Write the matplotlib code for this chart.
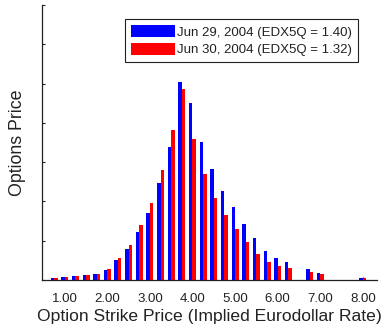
import matplotlib
matplotlib.use("Agg")
import matplotlib.pyplot as plt
import numpy as np

plt.rcParams['font.family'] = ['Liberation Sans', 'DejaVu Sans']

strikes = [0.75, 1.00, 1.25, 1.50, 1.75, 2.00, 2.25, 2.50, 2.75, 3.00, 3.25, 3.50,
           3.75, 4.00, 4.25, 4.50, 4.75, 5.00, 5.25, 5.50, 5.75, 6.00, 6.25,
           6.75, 7.00, 8.00]
jun29 = [0.06, 0.085, 0.11, 0.135, 0.16, 0.25, 0.51, 0.78, 1.23, 1.70, 2.48, 3.38,
         5.03, 4.50, 3.52, 2.82, 2.27, 1.86, 1.42, 1.06, 0.75, 0.55, 0.46,
         0.28, 0.18, 0.05]
jun30 = [0.06, 0.08, 0.11, 0.135, 0.16, 0.28, 0.56, 0.88, 1.41, 1.95, 2.81, 3.82,
         4.87, 3.60, 2.70, 2.09, 1.66, 1.30, 0.96, 0.66, 0.47, 0.36, 0.31,
         0.20, 0.15, 0.05]
labels = ["Jun 29, 2004 (EDX5Q = 1.40)", "Jun 30, 2004 (EDX5Q = 1.32)"]
xticks = [1, 2, 3, 4, 5, 6, 7, 8]
xticklabels = ["1.00", "2.00", "3.00", "4.00", "5.00", "6.00", "7.00", "8.00"]

fig = plt.figure(figsize=(3.83, 3.27), dpi=100)
ax = fig.add_axes([0.109, 0.1437, 0.875, 0.841])

x = np.array(strikes)
w = 0.082
ax.bar(x - w / 2, jun29, width=w, color='#0000ff', linewidth=0, label=labels[0], zorder=2)
ax.bar(x + w / 2, jun30, width=w, color='#ff0000', linewidth=0, label=labels[1], zorder=2)

ax.set_xlim(0.46, 8.33)
ax.set_ylim(0, 7)
ax.set_yticks(range(0, 8))
ax.set_yticklabels([])
ax.set_xticks(xticks)
ax.set_xticklabels(xticklabels)
ax.set_axisbelow(True)
ax.tick_params(axis='both', direction='in', length=2.5, width=0.8, color='#222222')
ax.tick_params(axis='x', labelsize=9.5, pad=9, labelcolor='#222222')

for s in ['top', 'right']:
    ax.spines[s].set_visible(False)
for s in ['left', 'bottom']:
    ax.spines[s].set_linewidth(0.9)
    ax.spines[s].set_color('#222222')

ax.set_xlabel("Option Strike Price (Implied Eurodollar Rate)", fontsize=12.6,
              labelpad=3, color='#222222')
ax.set_ylabel("Options Price", fontsize=12.8, labelpad=8, color='#222222')

leg = ax.legend(loc='upper right', bbox_to_anchor=(0.943, 0.949), borderaxespad=0,
                fontsize=9.5, handlelength=3.3, handleheight=1.05, handletextpad=0.15,
                labelspacing=0.32, borderpad=0.45, fancybox=False, framealpha=1)
leg.get_frame().set_edgecolor('#222222')
leg.get_frame().set_linewidth(0.8)
for t in leg.get_texts():
    t.set_color('#222222')

fig.savefig("out.png", dpi=100)
